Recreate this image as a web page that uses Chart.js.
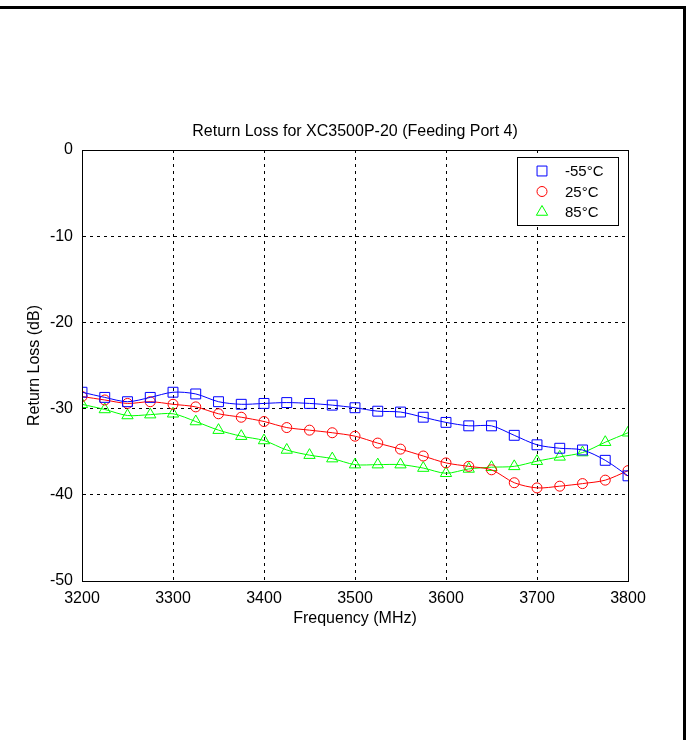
<!DOCTYPE html>
<html>
<head>
<meta charset="utf-8">
<script src="https://cdn.jsdelivr.net/npm/chart.js@4/dist/chart.umd.min.js"></script>
<style>
  body { margin: 0; background: #fff; }
  #wrap { position: relative; width: 692px; height: 740px; }
  #frame { position: absolute; left: 0; top: 6px; width: 683px; height: 734px;
           border-top: 3px solid #000; border-right: 3px solid #000; }
  canvas { position: absolute; left: 0; top: 0; }
</style>
</head>
<body>
<div id="wrap">
  <div id="frame"></div>
  <canvas id="chart" width="692" height="740"></canvas>
</div>
<script>
// Frequency points (MHz)
const freqs = [3200, 3225, 3250, 3275, 3300, 3325, 3350, 3375, 3400, 3425, 3450, 3475, 3500,
               3525, 3550, 3575, 3600, 3625, 3650, 3675, 3700, 3725, 3750, 3775, 3800];

// Return loss (dB) per temperature
const lossMinus55 = [-28.1, -28.7, -29.2, -28.7, -28.1, -28.3, -29.2, -29.5, -29.4, -29.3, -29.4, -29.6, -29.9,
                     -30.3, -30.4, -31.0, -31.6, -32.0, -32.0, -33.1, -34.2, -34.6, -34.8, -36.0, -37.8];
const loss25 = [-28.6, -29.0, -29.4, -29.2, -29.5, -29.8, -30.6, -31.0, -31.5, -32.2, -32.5, -32.8, -33.2,
                -34.0, -34.7, -35.5, -36.3, -36.7, -37.1, -38.6, -39.2, -39.0, -38.7, -38.3, -37.2];
const loss85 = [-29.5, -30.1, -30.8, -30.7, -30.6, -31.5, -32.5, -33.2, -33.7, -34.8, -35.4, -35.8, -36.5,
                -36.5, -36.5, -36.9, -37.5, -37.0, -36.8, -36.7, -36.1, -35.6, -35.1, -33.9, -32.8];

const seriesLabels = ['-55°C', '25°C', '85°C'];
const xTicks = [3200, 3300, 3400, 3500, 3600, 3700, 3800];
const yTicks = [0, -10, -20, -30, -40, -50];
const chartTitle = 'Return Loss for XC3500P-20 (Feeding Port 4)';

const FONT = 'Liberation Sans, Arial, sans-serif';

function toPoints(values) {
    return freqs.map((f, i) => ({ x: f, y: values[i] }));
}

function drawMarker(ctx, style, x, y, r, color) {
    ctx.save();
    ctx.strokeStyle = color;
    ctx.lineWidth = 1;
    ctx.beginPath();
    if (style === 'rect') {
        const s = r * Math.SQRT1_2;
        ctx.rect(x - s, y - s, 2 * s, 2 * s);
    } else if (style === 'circle') {
        ctx.arc(x, y, r, 0, Math.PI * 2);
    } else {
        ctx.moveTo(x, y - r);
        ctx.lineTo(x + r * 0.866, y + r * 0.5);
        ctx.lineTo(x - r * 0.866, y + r * 0.5);
        ctx.closePath();
    }
    ctx.stroke();
    ctx.restore();
}

// title over the plot, plot frame, legend box inside the plot
const framePlugin = {
    id: 'frameAndLegend',
    afterDatasetsDraw(chart) {
        const ctx = chart.ctx;
        const a = chart.chartArea;
        ctx.save();
        ctx.strokeStyle = '#000';
        ctx.lineWidth = 1;
        ctx.strokeRect(a.left + 0.5, a.top + 0.5, a.right - a.left, a.bottom - a.top);

        ctx.fillStyle = '#000';
        ctx.font = '16px ' + FONT;
        ctx.textAlign = 'center';
        ctx.textBaseline = 'middle';
        ctx.fillText(chartTitle, (a.left + a.right) / 2, 132);

        // legend
        const bx = 517.5, by = 157.5, bw = 101, bh = 68;
        ctx.fillStyle = '#fff';
        ctx.fillRect(bx, by, bw, bh);
        ctx.strokeRect(bx, by, bw, bh);
        ctx.font = '15px ' + FONT;
        ctx.textBaseline = 'middle';
        ctx.textAlign = 'left';
        chart.data.datasets.forEach((ds, i) => {
            const y = 171 + i * 20.5;
            drawMarker(ctx, ds.pointStyle, 542, y, ds.pointRadius, ds.borderColor);
            ctx.fillStyle = '#000';
            ctx.fillText(ds.label, 565, y + 1);
        });
        ctx.restore();
    }
};

new Chart(document.getElementById('chart').getContext('2d'), {
    type: 'line',
    data: {
        datasets: [{
            label: seriesLabels[0],
            data: toPoints(lossMinus55),
            borderColor: '#0000ff',
            pointStyle: 'rect',
            pointRadius: 7
        }, {
            label: seriesLabels[1],
            data: toPoints(loss25),
            borderColor: '#ff0000',
            pointStyle: 'circle',
            pointRadius: 5
        }, {
            label: seriesLabels[2],
            data: toPoints(loss85),
            borderColor: '#00ff00',
            pointStyle: 'triangle',
            pointRadius: 6.5
        }].map(ds => Object.assign(ds, {
            borderWidth: 1,
            pointBorderWidth: 1,
            pointBackgroundColor: 'rgba(0,0,0,0)',
            pointBorderColor: ds.borderColor,
            tension: 0.3,
            fill: false
        }))
    },
    options: {
        responsive: false,
        animation: false,
        layout: { padding: { left: 0, right: 64, top: 150, bottom: 0 } },
        plugins: {
            legend: { display: false },
            tooltip: { enabled: false },
            title: { display: false }
        },
        scales: {
            x: {
                type: 'linear',
                min: 3200,
                max: 3800,
                afterBuildTicks: scale => { scale.ticks = xTicks.map(v => ({ value: v })); },
                afterFit: scale => { scale.height = 159; },
                ticks: { color: '#000', padding: 8, maxRotation: 0,
                         callback: v => String(v),
                         font: { family: FONT, size: 16 } },
                grid: { color: '#000', lineWidth: 1, drawTicks: false },
                border: { color: '#000', dash: [3, 4] },
                title: {
                    display: true,
                    text: 'Frequency (MHz)',
                    color: '#000',
                    font: { family: FONT, size: 16 },
                    padding: { top: 0, bottom: 112 }
                }
            },
            y: {
                type: 'linear',
                min: -50,
                max: 0,
                afterBuildTicks: scale => { scale.ticks = yTicks.map(v => ({ value: v })); },
                afterFit: scale => { scale.width = 82; },
                ticks: { color: '#000', padding: 9,
                         callback: v => String(v),
                         font: { family: FONT, size: 16 } },
                grid: { color: '#000', lineWidth: 1, drawTicks: false },
                border: { color: '#000', dash: [3, 4] },
                title: {
                    display: true,
                    text: 'Return Loss (dB)',
                    color: '#000',
                    font: { family: FONT, size: 16 },
                    padding: { top: 25, bottom: 0 }
                }
            }
        }
    },
    plugins: [framePlugin]
});
</script>
</body>
</html>
